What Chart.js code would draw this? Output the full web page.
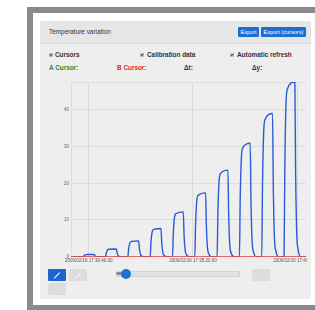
<!DOCTYPE html>
<html>
<head>
<meta charset="utf-8">
<script src="https://cdn.jsdelivr.net/npm/chart.js@4.4.1/dist/chart.umd.min.js"></script>
<style>
html,body{margin:0;padding:0;background:#fff;width:315px;height:310px;overflow:hidden;font-family:"Liberation Sans",Arial,sans-serif}
.abs{position:absolute}
#frame{left:27px;top:7px;width:300px;height:310px;background:#8a8a8a}
#page{left:33px;top:13px;width:300px;height:292px;background:#fff}
#panel{left:40px;top:21px;width:271px;height:278px;background:#eeeeee;border-radius:2px}
#head{left:40px;top:21px;width:271px;height:22px;background:#e6e6e6;border-bottom:1px solid #dcdcdc;border-radius:2px 2px 0 0}
.title{left:49px;top:26px;height:11px;line-height:11px;font-size:6.4px;color:#333;white-space:nowrap}
.btn{top:27px;height:10px;line-height:10px;background:#1b6fd3;color:#fff;font-size:5.6px;text-align:center;border-radius:1px;white-space:nowrap}
.lbl{height:10px;line-height:10px;font-size:6.4px;font-weight:bold;color:#333;white-space:nowrap}
.cb{width:4px;height:4px;background:#c4c4c4;top:53px;border-radius:0.5px}
.cb:after{content:"";position:absolute;left:1px;top:0px;width:1px;height:2px;border:solid #555;border-width:0 1px 1px 0;transform:rotate(45deg)}
.sq{width:18px;height:12px;border-radius:1px}
.icon{font-size:6px;color:#fff;text-align:center;line-height:12px}
.diag{position:absolute;left:5px;top:5.5px;width:8px;height:1.2px;background:#fff;transform:rotate(-45deg)}
#chartBox{left:48px;top:80px;width:259px;height:186px}
</style>
</head>
<body>
<div id="frame" class="abs"></div>
<div id="page" class="abs"></div>
<div id="panel" class="abs"></div>
<div id="head" class="abs"></div>
<div class="abs title">Temperature variation</div>
<div class="abs btn" style="left:238px;width:21px">Export</div>
<div class="abs btn" style="left:261px;width:45px">Export (cursors)</div>

<div class="abs cb" style="left:49px"></div>
<div class="abs lbl" style="left:55px;top:50px">Cursors</div>
<div class="abs cb" style="left:140px"></div>
<div class="abs lbl" style="left:147px;top:50px">Calibration data</div>
<div class="abs cb" style="left:230px"></div>
<div class="abs lbl" style="left:237px;top:50px">Automatic refresh</div>

<div class="abs lbl" style="left:49px;top:63px;color:#2a8a2a">A Cursor:</div>
<div class="abs lbl" style="left:117px;top:63px;color:#e3262b">B Cursor:</div>
<div class="abs lbl" style="left:184px;top:63px">&Delta;t:</div>
<div class="abs lbl" style="left:252px;top:63px">&Delta;y:</div>

<div id="chartBox" class="abs"><canvas id="tempChart" width="259" height="186"></canvas></div>

<div class="abs sq" style="left:48px;top:269px;background:#1b66cf"><div class="diag"></div></div>
<div class="abs sq" style="left:69px;top:269px;background:#dddddd"><div class="diag" style="background:#f4f4f4"></div></div>
<div class="abs sq icon" style="left:48px;top:283px;background:#dddddd;color:#f4f4f4">&rarr;</div>
<div class="abs sq icon" style="left:252px;top:269px;background:#dddddd;color:#f4f4f4">&larr;</div>

<div class="abs" style="left:116px;top:271px;width:122px;height:4px;background:#e2e2e2;border:0.5px solid #d2d2d2;border-radius:2px"></div>
<div class="abs" style="left:116px;top:271.5px;width:8px;height:3.5px;background:#8c8c8c;border-radius:2px 0 0 2px"></div>
<div class="abs" style="left:120.7px;top:269px;width:10px;height:10px;background:#1e73d2;border-radius:50%"></div>

<script>
// --- Data ---
const xTickValues = [40, 320, 600];
const xTickLabels = ["2000/02/16 17:30:40.00", "2000/02/16 17:35:20.00", "2000/02/16 17:40:00.00"];
const yTickValues = [0, 10, 20, 30, 40];

const times = [
  -8,
  25, 27, 30, 34, 54, 56, 59, 63, 70,
  85, 87, 90, 94, 114, 116, 119, 123, 130,
  145, 147, 150, 154, 174, 176, 179, 183, 190,
  205, 207, 210, 214, 234, 236, 239, 243, 250,
  265, 267, 270, 274, 294, 296, 299, 303, 310,
  325, 327, 330, 334, 354, 356, 359, 363, 370,
  385, 387, 390, 394, 414, 416, 419, 423, 430,
  445, 447, 450, 454, 474, 476, 479, 483, 490,
  505, 507, 510, 514, 534, 536, 539, 543, 550,
  565, 567, 570, 574, 594, 596, 599, 603, 610,
  624
];
const temps = [
  0,
  0, 0.3, 0.52, 0.58, 0.6, 0.3, 0.08, 0.02, 0,
  0, 1.05, 1.81, 2.02, 2.1, 1.05, 0.29, 0.08, 0,
  0, 2.15, 3.7, 4.13, 4.3, 2.15, 0.6, 0.17, 0,
  0, 3.85, 6.62, 7.39, 7.7, 3.85, 1.08, 0.31, 0,
  0, 6.1, 10.49, 11.71, 12.2, 6.1, 1.71, 0.49, 0,
  0, 8.7, 14.96, 16.7, 17.4, 8.7, 2.44, 0.7, 0,
  0, 11.8, 20.3, 22.66, 23.6, 11.8, 3.3, 0.94, 0,
  0, 15.45, 26.57, 29.66, 30.9, 15.45, 4.33, 1.24, 0,
  0, 19.5, 33.54, 37.44, 39.0, 19.5, 5.46, 1.56, 0,
  0, 23.8, 40.94, 45.7, 47.6, 23.8, 6.66, 1.9, 0,
  0
];
const calibTimes = [-8, 624];
const calibTemps = [0, 0];

// top border of the plot box
const frameLine = {
  id: 'frameLine',
  beforeDatasetsDraw(chart) {
    const {ctx, chartArea: a} = chart;
    ctx.save();
    ctx.strokeStyle = '#dcdcdc';
    ctx.lineWidth = 1;
    ctx.beginPath();
    ctx.moveTo(a.left, a.top + 0.5);
    ctx.lineTo(a.right, a.top + 0.5);
    ctx.stroke();
    ctx.restore();
  }
};

const tickFont = {family: "'Liberation Sans', Arial, sans-serif", size: 4.5};

new Chart(document.getElementById('tempChart'), {
  type: 'line',
  data: {
    datasets: [
      {
        data: times.map((t, i) => ({x: t, y: temps[i]})),
        borderColor: '#2a5bd7', borderWidth: 1.4, pointRadius: 0,
        cubicInterpolationMode: 'monotone', fill: false, order: 1
      },
      {
        data: calibTimes.map((t, i) => ({x: t, y: calibTemps[i]})),
        borderColor: '#e8403c', borderWidth: 1.3, pointRadius: 0,
        fill: false, order: 0
      }
    ]
  },
  options: {
    responsive: false,
    animation: false,
    devicePixelRatio: 1,
    layout: {padding: {top: 2, right: 1, left: 0, bottom: 0}},
    plugins: {legend: {display: false}, tooltip: {enabled: false}},
    scales: {
      x: {
        type: 'linear', min: -8, max: 624,
        afterBuildTicks: s => { s.ticks = xTickValues.map(v => ({value: v})); },
        afterFit: s => { s.height = 9.3; s.paddingLeft = 0; s.paddingRight = 0; },
        ticks: {
          autoSkip: false, maxRotation: 0, padding: 1.5, color: '#555', font: tickFont,
          callback: v => xTickLabels[xTickValues.indexOf(v)]
        },
        grid: {color: '#dcdcdc', drawTicks: false},
        border: {color: '#dcdcdc'}
      },
      y: {
        min: 0, max: 47.6,
        afterBuildTicks: s => { s.ticks = yTickValues.map(v => ({value: v})); },
        afterFit: s => { s.width = 23; s.paddingTop = 0; s.paddingBottom = 0; },
        ticks: {padding: 2, color: '#666', font: tickFont},
        grid: {color: '#dcdcdc', drawTicks: false},
        border: {color: '#dcdcdc'}
      }
    }
  },
  plugins: [frameLine]
});
</script>
</body>
</html>
